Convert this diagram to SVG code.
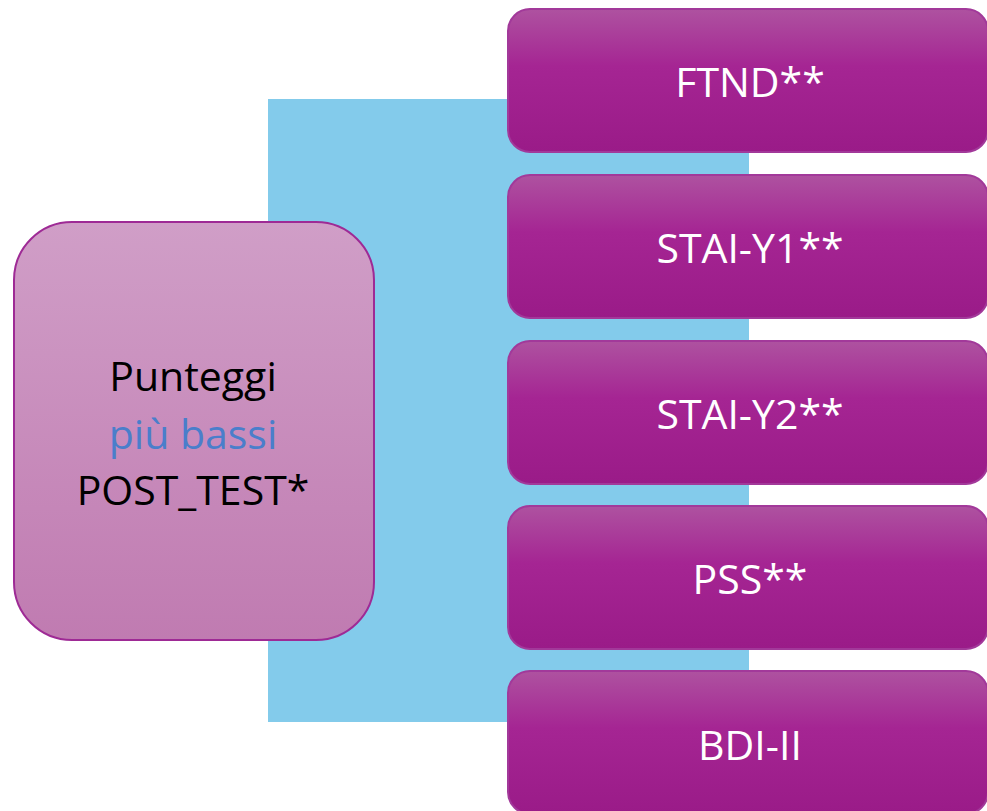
<svg xmlns="http://www.w3.org/2000/svg" width="987" height="811" viewBox="0 0 987 811">
<defs>
<linearGradient id="gBox" x1="0" y1="0" x2="0" y2="1">
<stop offset="0" stop-color="#AE52A0"/>
<stop offset="0.4" stop-color="#A52593"/>
<stop offset="1" stop-color="#9A1B88"/>
</linearGradient>
<linearGradient id="gMain" x1="0" y1="0" x2="0" y2="1">
<stop offset="0" stop-color="#D09EC7"/>
<stop offset="1" stop-color="#C07BB1"/>
</linearGradient>
<style>
.box{fill:url(#gBox);stroke:#A2399A;stroke-width:2}
.bt{font-family:"Open Sans","Liberation Sans",sans-serif;font-size:41px;fill:#FFFFFF;text-anchor:middle}
.mt{font-family:"Open Sans","Liberation Sans",sans-serif;font-size:41px;fill:#000000;text-anchor:middle}
</style>
</defs>
<rect id="band" x="268" y="99" width="481" height="623" fill="#83CBEB"/>
<g id="connectors"></g>
<g id="main">
<rect x="14" y="222" width="360" height="418" rx="58" fill="url(#gMain)" stroke="#9E2A95" stroke-width="2"/>
<text class="mt" x="193" y="391">Punteggi</text>
<text class="mt" x="193" y="449" style="fill:#4A7ECB">più bassi</text>
<text class="mt" x="193" y="505">POST_TEST*</text>
</g>
<g id="ftnd">
<rect class="box" x="508" y="9" width="480" height="143" rx="22"/>
<text class="bt" x="750" y="97">FTND**</text>
</g>
<g id="staiy1">
<rect class="box" x="508" y="175" width="480" height="143" rx="22"/>
<text class="bt" x="750" y="263">STAI-Y1**</text>
</g>
<g id="staiy2">
<rect class="box" x="508" y="341" width="480" height="143" rx="22"/>
<text class="bt" x="750" y="429">STAI-Y2**</text>
</g>
<g id="pss">
<rect class="box" x="508" y="506" width="480" height="143" rx="22"/>
<text class="bt" x="750" y="594">PSS**</text>
</g>
<g id="bdi">
<rect class="box" x="508" y="671" width="480" height="143" rx="22"/>
<text class="bt" x="750" y="760">BDI-II</text>
</g>
</svg>
